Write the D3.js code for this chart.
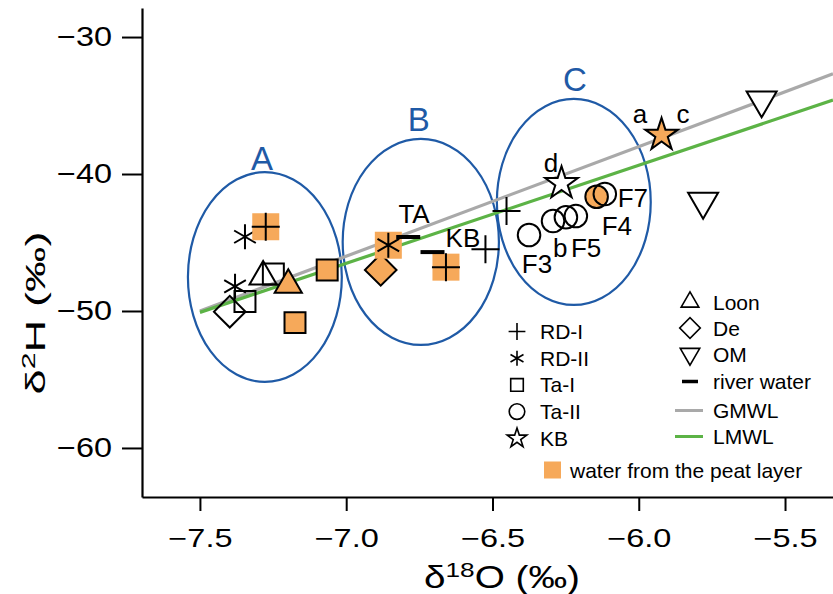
<!DOCTYPE html>
<html>
<head>
<meta charset="utf-8">
<script src="https://cdn.jsdelivr.net/npm/d3@7"></script>
<style>
  body { margin: 0; background: #fff; }
  svg { display: block; font-family: Arial, "Liberation Sans", sans-serif; }
</style>
</head>
<body>
<div class="chart"></div>
<script>
// δ18O, δ2H values per sample group (peat = water from the peat layer)
const rdI = [[-7.275, -43.85, true], [-6.659, -46.8, true], [-6.524, -45.5, false], [-6.452, -42.7, false]]
const rdII = [[-7.346, -44.58, false], [-7.380, -48.2, false], [-6.856, -45.2, true]]
const taI = [[-7.249, -47.3, false], [-7.346, -49.3, false], [-7.065, -47.0, true], [-7.175, -50.85, true]]
const taII = [[-6.375, -44.45, false], [-6.293, -43.43, false], [-6.249, -43.16, false], [-6.215, -43.07, false],
              [-6.144, -41.66, true], [-6.116, -41.46, false]]
const kb = [[-6.264, -40.68, false], [-5.922, -37.15, true]]
const loon = [[-7.284, -47.5, false], [-7.198, -48.1, true]]
const de = [[-7.398, -50.05, false], [-6.882, -47.0, true]]
const om = [[-5.580, -34.6, false], [-5.780, -42.0, false]]
const river = [[-6.788, -44.6, false], [-6.705, -45.7, false]]

// meteoric water lines: slope, intercept
const gmwl = [8, 10]
const lmwl = [7.16, 3.6]
const lineStart = -7.5

const xTicks = [-7.5, -7.0, -6.5, -6.0, -5.5]
const yTicks = [-30, -40, -50, -60]

// cluster ellipses: name, centre δ18O, centre δ2H, radius δ18O, radius δ2H, label δ18O, label δ2H
const clusters = [
    ["A", -7.278, -47.52, 0.263, 7.66, -7.288, -39.71],
    ["B", -6.745, -44.96, 0.267, 7.52, -6.752, -36.86],
    ["C", -6.222, -42.04, 0.263, 7.52, -6.218, -33.94]
]

// point annotations: text, δ18O, δ2H (baseline)
const notes = [
    ["TA", -6.768, -43.58], ["KB", -6.601, -45.33], ["d", -6.300, -39.85],
    ["F3", -6.348, -47.23], ["b", -6.268, -46.06], ["F5", -6.180, -46.06],
    ["F4", -6.075, -44.45], ["F7", -6.020, -42.41], ["a", -5.996, -36.28], ["c", -5.849, -36.28]
]

const width = 833
const height = 594
const orange = "#f6a95a"
const blue = "#1f5aa6"
const grey = "#a9a9a9"
const green = "#5cb346"

const xScale = d3.scaleLinear().domain([-7.698, -5.336]).range([142, 833])
const yScale = d3.scaleLinear().domain([-63.58, -27.88]).range([497, 8])

const svg = d3.select(".chart")
    .append("svg")
    .attr("width", width)
    .attr("height", height)

// axes
svg.append("g")
    .attr("transform", `translate(0,${yScale.range()[0]})`)
    .call(d3.axisBottom(xScale).tickValues(xTicks).tickFormat(d3.format(".1f"))
        .tickSize(14).tickSizeOuter(0).tickPadding(18))
    .call(g => g.select(".domain").attr("stroke-width", 2.2))
    .call(g => g.selectAll(".tick line").attr("stroke-width", 2))
    .call(g => g.selectAll(".tick text").attr("font-size", 25).attr("transform", "scale(1.3,1)"))

svg.append("g")
    .attr("transform", `translate(${xScale.range()[0]},0)`)
    .call(d3.axisLeft(yScale).tickValues(yTicks).tickFormat(d3.format("d"))
        .tickSize(20).tickSizeOuter(0).tickPadding(5))
    .call(g => g.select(".domain").attr("stroke-width", 2.2))
    .call(g => g.selectAll(".tick line").attr("stroke-width", 2))
    .call(g => g.selectAll(".tick text").attr("font-size", 27).attr("transform", "scale(1.2,1)"))

svg.append("text")
    .attr("x", 502).attr("y", 588)
    .attr("text-anchor", "middle")
    .attr("font-size", 31)
    .attr("textLength", 156).attr("lengthAdjust", "spacingAndGlyphs")
    .call(t => {
        t.append("tspan").text("δ")
        t.append("tspan").attr("font-size", 21).attr("dy", -11).text("18")
        t.append("tspan").attr("dy", 11).text("O (‰)")
    })

svg.append("text")
    .attr("transform", "translate(45,313) rotate(-90)")
    .attr("text-anchor", "middle")
    .attr("font-size", 27)
    .attr("textLength", 163).attr("lengthAdjust", "spacingAndGlyphs")
    .call(t => {
        t.append("tspan").text("δ")
        t.append("tspan").attr("font-size", 18).attr("dy", -10).text("2")
        t.append("tspan").attr("dy", 10).text("H (‰)")
    })

// ellipses
const plot = svg.append("g")
plot.selectAll("ellipse")
    .data(clusters)
    .join("ellipse")
    .attr("cx", d => xScale(d[1]))
    .attr("cy", d => yScale(d[2]))
    .attr("rx", d => xScale(d[1] + d[3]) - xScale(d[1]))
    .attr("ry", d => yScale(d[2] - d[4]) - yScale(d[2]))
    .attr("fill", "none")
    .attr("stroke", blue)
    .attr("stroke-width", 2.2)

plot.selectAll("text.cl")
    .data(clusters)
    .join("text")
    .attr("class", "cl")
    .attr("x", d => xScale(d[5]))
    .attr("y", d => yScale(d[6]))
    .attr("text-anchor", "middle")
    .attr("font-size", 33)
    .attr("fill", blue)
    .text(d => d[0])

// water lines
const xEnd = xScale.domain()[1]
const mwl = (c, l) => plot.append("line")
    .attr("x1", xScale(lineStart)).attr("y1", yScale(l[0] * lineStart + l[1]))
    .attr("x2", xScale(xEnd)).attr("y2", yScale(l[0] * xEnd + l[1]))
    .attr("stroke", c)
    .attr("stroke-width", 3.2)
mwl(grey, gmwl)
mwl(green, lmwl)

// markers
const lines = (r, angles) => angles.map(a => {
    const c = Math.cos(a * Math.PI / 180) * r, s = Math.sin(a * Math.PI / 180) * r
    return `M${c},${-s}L${-c},${s}`
}).join("")

function marker(g, kind, peat, k) {
    const fill = peat ? orange : "none"
    const sw = k < 1 ? 1.6 : 2
    if (kind === "plus" || kind === "aster") {
        if (peat) g.append("rect").attr("x", -13.5 * k).attr("y", -13.5 * k)
            .attr("width", 27 * k).attr("height", 27 * k).attr("fill", orange)
        g.append("path")
            .attr("d", kind === "plus" ? lines(14 * k, [0, 90]) : lines(12.5 * k, [90, 30, 150]))
            .attr("stroke", "black").attr("stroke-width", sw)
        return
    }
    if (kind === "dash") {
        g.append("line").attr("x1", -12 * k).attr("x2", 12 * k)
            .attr("stroke", "black").attr("stroke-width", 4)
        return
    }
    const types = {
        square: [d3.symbolSquare, 440, 0, fill],
        circle: [d3.symbolCircle, 400, 0, fill],
        star: [d3.symbolStar, 330, 0, peat ? orange : "white"],
        tri: [d3.symbolTriangle, 320, 0, fill],
        diamond: [d3.symbolSquare, 500, 45, fill],
        triDown: [d3.symbolTriangle, 390, 180, "white"]
    }
    const [type, size, rot, f] = types[kind]
    const kk = kind === "circle" && k < 1 ? k * 1.15 : k
    g.append("path")
        .attr("d", d3.symbol().type(type).size(size * kk * kk)())
        .attr("transform", `rotate(${rot})`)
        .attr("fill", f)
        .attr("stroke", "black")
        .attr("stroke-width", sw)
        .attr("stroke-linejoin", "miter")
}

const groups = [
    [taI, "square"], [loon, "tri"], [de, "diamond"], [rdII, "aster"], [rdI, "plus"],
    [taII, "circle"], [kb, "star"], [om, "triDown"], [river, "dash"]
]

groups.forEach(([data, kind]) => {
    plot.append("g")
        .selectAll("g")
        .data(data)
        .join("g")
        .attr("transform", d => `translate(${xScale(d[0])},${yScale(d[1])})`)
        .each(function (d) { marker(d3.select(this), kind, d[2], 1) })
})

plot.selectAll("text.note")
    .data(notes)
    .join("text")
    .attr("class", "note")
    .attr("x", d => xScale(d[1]))
    .attr("y", d => yScale(d[2]))
    .attr("text-anchor", "middle")
    .attr("font-size", 26)
    .text(d => d[0])

// legend
const legendLeft = [["plus", "RD-I"], ["aster", "RD-II"], ["square", "Ta-I"], ["circle", "Ta-II"], ["star", "KB"]]
const legendRight = [["tri", "Loon"], ["diamond", "De"], ["triDown", "OM"], ["dash", "river water"], [grey, "GMWL"], [green, "LMWL"]]

const leg = svg.append("g").attr("font-size", 21)

legendLeft.forEach(([kind, label], i) => {
    const y = 331.5 + i * 26.7
    marker(leg.append("g").attr("transform", `translate(517,${y})`), kind, false, 0.6)
    leg.append("text").attr("x", 540).attr("y", y).attr("dy", "0.36em").text(label)
})

const rightY = [302, 328, 354, 381.5, 410.5, 436.5]
legendRight.forEach(([kind, label], i) => {
    const y = rightY[i]
    const g = leg.append("g").attr("transform", `translate(690,${y})`)
    if (kind === grey || kind === green) {
        g.append("line").attr("x1", -15).attr("x2", 13).attr("stroke", kind).attr("stroke-width", 3)
    } else if (kind === "dash") {
        g.append("line").attr("x1", -8).attr("x2", 8).attr("stroke", "black").attr("stroke-width", 3.5)
    } else {
        marker(g, kind, false, 0.65)
    }
    leg.append("text").attr("x", 713).attr("y", y).attr("dy", "0.36em").text(label)
})

leg.append("rect").attr("x", 544).attr("y", 461.5).attr("width", 17).attr("height", 17).attr("fill", orange)
leg.append("text").attr("x", 570).attr("y", 470).attr("dy", "0.36em").text("water from the peat layer")
</script>
</body>
</html>
